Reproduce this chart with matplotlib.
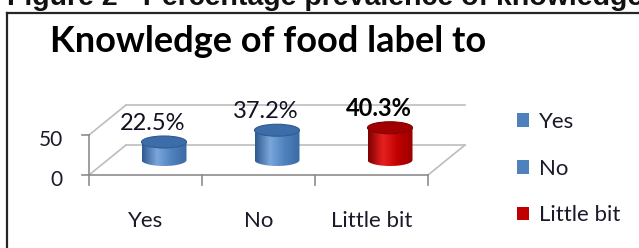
import matplotlib
matplotlib.use('Agg')
import matplotlib.pyplot as plt
import numpy as np
from matplotlib.patches import Polygon, Ellipse, Patch
from matplotlib.lines import Line2D
from matplotlib.colors import LinearSegmentedColormap

categories = ['Yes', 'No', 'Little bit']
values = [22.5, 37.2, 40.3]
labels = ['22.5%', '37.2%', '40.3%']
y_ticks = [0, 50]
title = 'Knowledge of food label to'
caption = 'Figure 2 - Percentage prevalence of knowledge of'

blue = '#4F81BD'
red = '#C00000'
bar_colors = [blue, blue, red]
shades = {blue: ('#2E5A90', '#7AA6DA', '#3B6AA3', '#3D6DA8'),
          red: ('#7E0000', '#E82020', '#9A0000', '#A00000')}

W, H = 639, 248
fig = plt.figure(figsize=(W / 100, H / 100), dpi=100)

# px -> data scale of the front wall
px_cat = 113.0
px_val = 0.8
DX = 37 / px_cat
DY = 30 / px_val
ymax = 50

ax = fig.add_axes([89 / W, 73 / H, px_cat * 3.4 / W, px_val * 90 / H])
ax.axis('off')

grid_c = '#BDBDBD'
axis_c = '#8C8C8C'
n = len(categories)
# back wall + left wall + floor
for v in y_ticks:
    ax.plot([DX, n + DX], [v + DY, v + DY], color=grid_c, lw=1.2, clip_on=False)
    ax.plot([0, DX], [v, v + DY], color=grid_c, lw=1.2, clip_on=False)
ax.plot([n, n + DX], [0, DY], color=grid_c, lw=1.2, clip_on=False)
# front axes
ax.plot([0, 0], [0, ymax], color=axis_c, lw=1.2, clip_on=False)
ax.plot([0, n], [0, 0], color=axis_c, lw=1.2, clip_on=False)
for i in range(n + 1):
    ax.plot([i, i], [0, -12], color=axis_c, lw=1.2, clip_on=False)
for v in y_ticks:
    ax.plot([-0.06, 0], [v, v], color=axis_c, lw=1.2, clip_on=False)
    ax.annotate(str(v), (0, v), xytext=(-19, -3.5), textcoords='offset points',
                ha='right', va='center', fontsize=15, family='Lato',
                color='#1a1a2a')

# cylinders
w = 45 / px_cat
eh = 12 / px_val
t = np.linspace(0, np.pi, 60)
for i, (val, col) in enumerate(zip(values, bar_colors)):
    cx = i + 0.5 + DX / 2
    base = DY / 2
    top = base + val
    left, right = cx - w / 2, cx + w / 2
    bx = cx - np.cos(t) * w / 2
    by = base - np.sin(t) * eh / 2
    tx = cx + np.cos(t) * w / 2
    ty = top - np.sin(t) * eh / 2
    pts = np.column_stack([np.r_[bx, tx], np.r_[by, ty]])
    body = Polygon(pts, closed=True, facecolor='none', edgecolor='none')
    ax.add_patch(body)
    d, hi, r, topc = shades[col]
    cmap = LinearSegmentedColormap.from_list('c', [d, hi, col, r])
    grad = np.linspace(0, 1, 200).reshape(1, -1)
    im = ax.imshow(grad, cmap=cmap, extent=[left, right, base - eh / 2, top],
                   aspect='auto', origin='lower', zorder=2)
    im.set_clip_path(body)
    ax.add_patch(Ellipse((cx, top), w, eh, facecolor=topc, edgecolor=d,
                         lw=0.8, zorder=3))
    bold = i == n - 1
    ax.annotate(labels[i], (cx - 0.3 * DX, top + eh / 2), xytext=(0, 1.5),
                textcoords='offset points', ha='center', va='bottom',
                fontsize=17, family='Lato',
                fontweight='bold' if bold else 'normal',
                color='black' if bold else '#111122')
    ax.annotate(categories[i], (i + 0.5, 0), xytext=(0, -33),
                textcoords='offset points', ha='center', va='center',
                fontsize=16, family='Lato', color='#1a1a2a')
ax.set_xlim(0, 3.4)
ax.set_ylim(0, 90)

fig.text(268 / W, 1 - 42 / H, title, ha='center', va='center', fontsize=26,
         family='Lato', fontweight='bold', color='black')
fig.text(7 / W, 1 - 5 / H, caption, ha='left', va='baseline', fontsize=20.5,
         family='Liberation Sans', fontweight='bold', color='#111111')

fig.add_artist(Line2D([6.5 / W, 1], [1 - 12.5 / H, 1 - 12.5 / H], color='#262626', lw=1.6))
fig.add_artist(Line2D([6.5 / W, 6.5 / W], [0, 1 - 12.5 / H], color='#262626', lw=1.6))

handles = [Patch(facecolor=c, edgecolor='none') for c in bar_colors]
fig.legend(handles, categories, loc='upper left', bbox_to_anchor=(497 / W, 1 - 92 / H),
           frameon=False, prop={'family': 'Lato', 'size': 16},
           handlelength=0.55, handleheight=0.55, handletextpad=0.45,
           labelspacing=1.2, labelcolor='#1a1a2a')

fig.savefig('out.png', dpi=100)
